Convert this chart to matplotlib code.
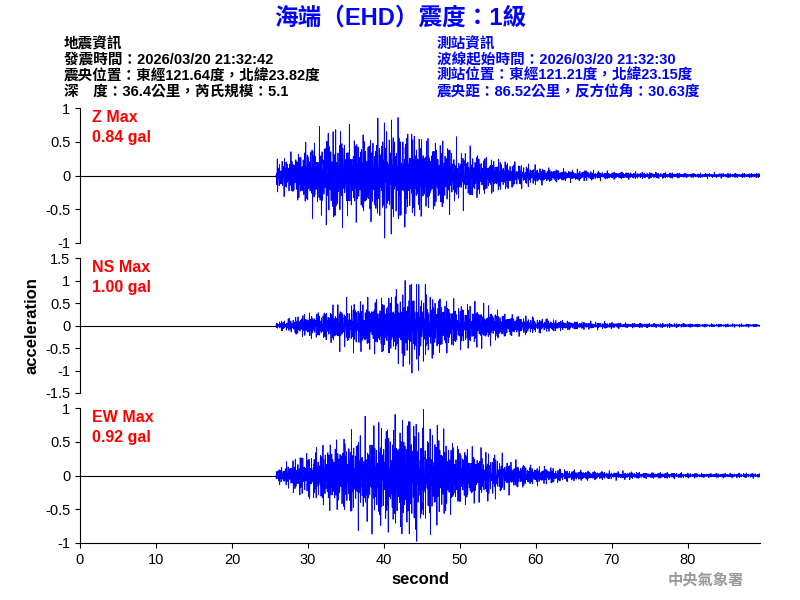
import numpy as np
import matplotlib
matplotlib.use('Agg')
import matplotlib.pyplot as plt

plt.rcParams['font.family'] = ['Liberation Sans', 'Noto Sans CJK TC', 'DejaVu Sans']

title = "海端（EHD）震度：1級"
quake_info = ["地震資訊", "發震時間：2026/03/20 21:32:42",
              "震央位置：東經121.64度，北緯23.82度", "深　度：36.4公里，芮氏規模：5.1"]
station_info = ["測站資訊", "波線起始時間：2026/03/20 21:32:30",
                "測站位置：東經121.21度，北緯23.15度", "震央距：86.52公里，反方位角：30.63度"]

components = ["Z", "NS", "EW"]
peaks = [0.84, 1.00, 0.92]
ylims = [1, 1.5, 1]
onset = 25.8
# envelope, every 2 s from the onset
env_t = np.arange(26, 92, 2)
env_z = [0.2, 0.3, 0.45, 0.55, 0.6, 0.55, 0.6, 0.7, 0.65, 0.6, 0.5, 0.45, 0.35, 0.3, 0.25, 0.2,
         0.15, 0.12, 0.1, 0.08, 0.07, 0.06, 0.05, 0.05, 0.04, 0.04, 0.04, 0.03, 0.03, 0.03, 0.03, 0.03, 0.03]
env_ns = [0.08, 0.15, 0.25, 0.3, 0.4, 0.45, 0.5, 0.6, 0.75, 0.85, 0.7, 0.55, 0.45, 0.4, 0.35, 0.25,
          0.2, 0.15, 0.12, 0.1, 0.08, 0.07, 0.06, 0.05, 0.05, 0.04, 0.04, 0.04, 0.03, 0.03, 0.03, 0.03, 0.03]
env_ew = [0.1, 0.2, 0.3, 0.4, 0.5, 0.55, 0.6, 0.7, 0.8, 0.85, 0.65, 0.55, 0.45, 0.35, 0.3, 0.22,
          0.17, 0.13, 0.1, 0.08, 0.07, 0.06, 0.05, 0.05, 0.04, 0.04, 0.04, 0.03, 0.03, 0.03, 0.03, 0.03, 0.03]
envs = [env_z, env_ns, env_ew]

fig = plt.figure(figsize=(8, 6), dpi=100)
fig.text(0.5, 0.97, title, color='#0000ff', fontsize=17, fontweight='bold', ha='center', va='center')
for i, s in enumerate(quake_info):
    fig.text(0.08, 1 - (44 + 16 * i) / 600, s, fontsize=10.5, va='center', fontweight='bold')
for i, s in enumerate(station_info):
    fig.text(0.546, 1 - (44 + 16 * i) / 600, s, fontsize=10.5, va='center', color='#0000ff', fontweight='bold')
fig.text(0.93, 0.032, "中央氣象署", fontsize=11, color='#999999', ha='right', va='center', fontweight='bold')

bottoms = [0.595, 0.345, 0.095]
t = np.arange(onset, 89.5, 0.01)
for k, (comp, pk, yl, env, b) in enumerate(zip(components, peaks, ylims, envs, bottoms)):
    ax = fig.add_axes([0.1, b, 0.85, 0.225])
    e = np.interp(t, env_t, env)
    carrier = (np.sin(2 * np.pi * 6.1 * t + k) * 0.5 + np.sin(2 * np.pi * 9.37 * t + 2 * k) * 0.35
               + np.sin(2 * np.pi * 13.91 * t + 0.7 * k) * 0.25 + np.sin(2 * np.pi * 17.3 * t) * 0.2)
    carrier = carrier * (0.6 + 0.6 * np.sin(2 * np.pi * 0.53 * t + k) ** 2)
    ax.plot([0, onset], [0, 0], color='black', lw=0.8)
    ax.plot(t, e * carrier, color='#0000ff', lw=0.6)
    ax.set_xlim(0, 89.5)
    ax.set_ylim(-yl, yl)
    ax.set_yticks(np.arange(-yl, yl + 0.01, 0.5))
    ax.set_yticklabels([f"{v:g}" for v in np.arange(-yl, yl + 0.01, 0.5)])
    for sp in ['top', 'right']:
        ax.spines[sp].set_visible(False)
    ax.tick_params(labelsize=10.5)
    ax.text(0.018, 0.93, f"{comp} Max", transform=ax.transAxes, color='red', fontsize=11.5,
            va='center', fontweight='bold')
    ax.text(0.018, 0.78, f"{pk:.2f} gal", transform=ax.transAxes, color='red', fontsize=11.5,
            va='center', fontweight='bold')
    if k < 2:
        ax.spines['bottom'].set_visible(False)
        ax.set_xticks([])
    else:
        ax.set_xticks(range(0, 90, 10))
        ax.set_xlabel("second", fontsize=12, fontweight='bold')
    if k == 1:
        ax.set_ylabel("acceleration", fontsize=12, fontweight='bold')

fig.savefig("out.png", dpi=100)
